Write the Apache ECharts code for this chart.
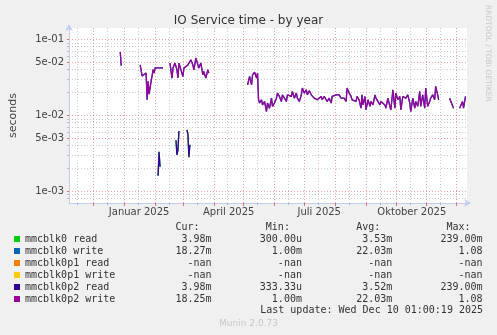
<!DOCTYPE html>
<html><head><meta charset="utf-8">
<script src="https://cdn.jsdelivr.net/npm/echarts@6/dist/echarts.min.js"></script>
<style>html,body{margin:0;padding:0;background:#F0F0F0;}#c{width:497px;height:335px;}</style>
</head><body><div id="c"></div>
<script>
// ---- texts ----
const chartTitle = 'IO Service time - by year';
const yAxisName = 'seconds';
const lastUpdate = 'Last update: Wed Dec 10 01:00:19 2025';
const footer = 'Munin 2.0.73';
const watermark = 'RRDTOOL / TOBI OETIKER';

// ---- axes ----
const axisStart = '2024-11-06T12:00:00';
const axisEnd = '2025-12-11T12:00:00';
const dayZero = '2024-11-05T00:00:00';   // day offsets below count from here
const monthStarts = ['2024-12-01','2025-01-01','2025-02-01','2025-03-01','2025-04-01','2025-05-01','2025-06-01','2025-07-01','2025-08-01','2025-09-01','2025-10-01','2025-11-01','2025-12-01'];
const midMonths = ['2024-11-15','2024-12-15','2025-01-15','2025-02-15','2025-03-15','2025-04-15','2025-05-15','2025-06-15','2025-07-15','2025-08-15','2025-09-15','2025-10-15','2025-11-15'];
const xLabelDates = ['2025-01-16','2025-04-16','2025-07-16','2025-10-17'];
const xLabels = ['Januar 2025','April 2025','Juli 2025','Oktober 2025'];
const yMin = 7.0e-4, yMax = 0.141;
const yMajorTicks = [1e-3, 5e-3, 1e-2, 5e-2, 1e-1];
const yTickLabels = ['1e-03','5e-03','1e-02','5e-02','1e-01'];
const yMinorTicks = [8e-4, 9e-4, 2e-3, 3e-3, 4e-3, 6e-3, 7e-3, 8e-3, 9e-3, 2e-2, 3e-2, 4e-2, 6e-2, 7e-2, 8e-2, 9e-2];

// ---- legend ----
const seriesNames = ['mmcblk0 read','mmcblk0 write','mmcblk0p1 read','mmcblk0p1 write','mmcblk0p2 read','mmcblk0p2 write'];
const seriesColors = ['#00CC00','#0066B3','#FF8000','#FFCC00','#330099','#990099'];
const curValues = ['3.98m','18.27m','-nan','-nan','3.98m','18.25m'];
const minValues = ['300.00u','1.00m','-nan','-nan','333.33u','1.00m'];
const avgValues = ['3.53m','22.03m','-nan','-nan','3.52m','22.03m'];
const maxValues = ['239.00m','1.08','-nan','-nan','239.00m','1.08'];
const columnHeads = ['Cur:','Min:','Avg:','Max:'];

// ---- data (day offset from dayZero, value in seconds; null = gap) ----
const writeDays = [53,54,60,
  73,75,77,79,80,81,82,84,85,86,87,88,90,92,94,96,100,
  103,105,106,108,110,111,112,114,116,117,119,121,122,124,126,127,129,131,132,134,136,137,139,141,142,160,
  181,183,185,186,188,190,191,192,193,195,196,198,200,201,203,205,206,208,210,211,213,215,216,218,220,221,223,225,226,228,230,231,233,235,236,238,240,241,243,245,246,248,250,251,253,255,256,258,260,261,263,265,266,268,270,271,273,275,276,278,280,281,283,285,286,288,
  290,291,293,295,296,297,299,300,302,304,305,307,309,310,312,314,315,317,319,320,322,324,325,327,329,330,332,334,335,337,339,340,342,344,345,347,349,350,352,354,355,357,359,360,362,364,365,367,369,370,372,373,378,
  384,385,386,388,391,
  394,396,397,398,400];
const writeVals = [0.068,0.045,null,
  0.046,0.033,0.035,0.036,0.016,0.028,0.019,0.028,0.033,0.040,0.036,0.042,0.041,0.042,0.042,0.042,null,
  0.0487,0.0308,0.0418,0.0487,0.0397,0.031,0.0487,0.046,0.0324,0.0418,0.0397,0.046,0.0439,0.0537,0.046,0.0397,0.0567,0.0537,0.0418,0.0487,0.0341,0.0377,0.0308,0.0397,0.0359,null,
  0.0252,0.0324,0.0252,0.0341,0.037,0.031,0.036,0.016,0.0145,0.016,0.0137,0.0152,0.0112,0.0145,0.0124,0.0168,0.0131,0.0145,0.0168,0.0196,0.0177,0.0152,0.0186,0.0168,0.0152,0.0186,0.0196,0.0177,0.0206,0.0168,0.0196,0.0168,0.0152,0.0186,0.0228,0.0196,0.0217,0.0186,0.021,0.0186,0.0177,0.0168,0.0177,0.016,0.0168,0.0177,0.016,0.0177,0.0168,0.0152,0.0168,0.0145,0.0177,0.0177,0.0186,0.0177,0.0186,0.0168,0.0168,0.0168,0.0152,0.0228,0.0196,0.0177,0.016,0.0155,
  0.0152,0.0177,0.016,0.0124,0.0186,0.0137,0.0177,0.0118,0.016,0.0131,0.0152,0.0137,0.0186,0.0168,0.0177,0.0137,0.0152,0.016,0.0137,0.0124,0.0168,0.0131,0.0118,0.0217,0.0124,0.0196,0.016,0.0177,0.0118,0.0177,0.0186,0.0168,0.0186,0.0145,0.0112,0.0168,0.0124,0.0152,0.0131,0.0206,0.0131,0.0186,0.0124,0.0228,0.0131,0.0152,0.0168,0.0186,0.016,0.024,0.0186,0.016,null,
  0.0168,0.0177,0.0177,0.0124,null,
  0.0124,0.0127,0.0152,0.0124,0.0177];
const readDays = [91,92,93,100, 109,110,111,112,116, 120,121,122,123];
const readVals = [0.0016,0.0033,0.0021,null, 0.0047,0.0030,0.0035,0.0062,null, 0.0064,0.0057,0.0028,0.0041];

// ---- build ----
const DAY = 86400000;
const ts = s => new Date(s).getTime();
const t0 = ts(dayZero);
const dayTs = s => ts(s + 'T00:00:00');
function build(days, vals) {
  return days.map((d, i) => [t0 + d * DAY, vals[i] === null ? '-' : vals[i]]);
}
const seriesData = [build(readDays, readVals), build(writeDays, writeVals), [], [], build(readDays, readVals), build(writeDays, writeVals)];

const mono = 'DejaVu Sans Mono';
const sans = 'DejaVu Sans';
const rows = {};
seriesNames.forEach((n, i) => {
  rows[n] = n.padEnd(19) + curValues[i].padStart(12) + minValues[i].padStart(15) + avgValues[i].padStart(15) + maxValues[i].padStart(15);
});
const headerLine = ' '.repeat(25) + columnHeads.join(' '.repeat(11));

const axisColor = '#C4CCF2';
const majorGrid = {show: true, lineStyle: {color: 'rgba(228,110,110,0.65)', type: [1, 2], width: 1}};
const minorGrid = {show: true, lineStyle: {color: 'rgba(160,160,160,0.55)', type: [1, 2], width: 1}};
const xMin = ts(axisStart), xMax = ts(axisEnd);
const labelTs = xLabelDates.map(dayTs);

const xAxes = [
  { type: 'value', min: xMin, max: xMax, gridIndex: 0, position: 'bottom',
    axisLine: {show: false, onZero: false}, axisLabel: {show: false},
    axisTick: {show: true, customValues: midMonths.map(dayTs), length: 2, lineStyle: {color: '#bbb'}},
    splitLine: minorGrid },
  { type: 'value', min: xMin, max: xMax, gridIndex: 0, position: 'bottom',
    axisLine: {show: true, onZero: false, lineStyle: {color: axisColor, width: 1}, symbol: ['none', 'arrow'], symbolSize: [6, 7], symbolOffset: [0, 4]},
    axisLabel: {show: false},
    axisTick: {show: true, customValues: monthStarts.map(dayTs), length: 3, lineStyle: {color: '#E07070'}},
    splitLine: majorGrid },
  { type: 'value', min: xMin, max: xMax, gridIndex: 0, position: 'bottom',
    axisLine: {show: false, onZero: false}, axisTick: {show: false}, splitLine: {show: false},
    axisLabel: {show: true, customValues: labelTs, margin: 4, color: '#444', fontFamily: sans, fontSize: 10,
      formatter: v => { let best = 0, bd = Infinity; labelTs.forEach((t, i) => { const d = Math.abs(t - v); if (d < bd) { bd = d; best = i; } }); return xLabels[best]; }} }
];
const yAxes = [
  { type: 'log', logBase: 10, min: yMin, max: yMax, gridIndex: 0, position: 'left',
    axisLine: {show: false, onZero: false}, axisLabel: {show: false},
    axisTick: {show: true, customValues: yMinorTicks, length: 2, lineStyle: {color: '#bbb'}},
    splitLine: minorGrid },
  { type: 'log', logBase: 10, min: yMin, max: yMax, gridIndex: 0, position: 'left',
    name: yAxisName, nameLocation: 'middle', nameGap: 50, nameRotate: 90,
    nameTextStyle: {fontFamily: sans, fontSize: 11, color: '#444'},
    axisLine: {show: true, onZero: false, lineStyle: {color: axisColor, width: 1}, symbol: ['none', 'arrow'], symbolSize: [6, 7], symbolOffset: [0, 4]},
    axisTick: {show: true, customValues: yMajorTicks, length: 2, lineStyle: {color: '#E07070'}},
    axisLabel: {show: true, customValues: yMajorTicks, margin: 5, color: '#444', fontFamily: sans, fontSize: 10,
      formatter: v => { let best = 0, bd = Infinity; yMajorTicks.forEach((t, i) => { const d = Math.abs(Math.log10(t) - Math.log10(v)); if (d < bd) { bd = d; best = i; } }); return yTickLabels[best]; }},
    splitLine: majorGrid }
];

const series = seriesNames.map((n, i) => ({
  name: n, type: 'line', data: seriesData[i], xAxisIndex: 1, yAxisIndex: 1,
  showSymbol: false, symbol: 'none', connectNulls: false,
  lineStyle: {width: 1.3, color: seriesColors[i]}, itemStyle: {color: seriesColors[i]},
  z: 5 + i, animation: false
}));

const chart = echarts.init(document.getElementById('c'), null, {renderer: 'canvas'});
chart.setOption({
  animation: false,
  backgroundColor: '#F0F0F0',
  title: {text: chartTitle, left: 'center', top: 10, textStyle: {fontFamily: sans, fontSize: 12, fontWeight: 'normal', color: '#333'}},
  grid: {left: 67, right: 30, top: 28, bottom: 132, containLabel: false, show: true, backgroundColor: '#FFFFFF', borderWidth: 0},
  xAxis: xAxes,
  yAxis: yAxes,
  legend: {orient: 'vertical', left: 14, top: 233, padding: 0, itemGap: 0, itemWidth: 6, itemHeight: 6, icon: 'rect',
    selectedMode: false, data: seriesNames,
    textStyle: {fontFamily: mono, fontSize: 10, lineHeight: 12, color: '#333'},
    formatter: n => rows[n]},
  graphic: [
    {type: 'text', left: 25, top: 222, style: {text: headerLine, font: '10px "DejaVu Sans Mono"', fill: '#333'}},
    {type: 'text', right: 14, top: 305, style: {text: lastUpdate, font: '10px "DejaVu Sans Mono"', fill: '#333'}},
    {type: 'text', left: 'center', top: 319, style: {text: footer, font: '9px "DejaVu Sans"', fill: '#C8C8C8'}},
    {type: 'text', x: 492, y: 5, rotation: -Math.PI / 2, style: {text: watermark, font: '7.5px "DejaVu Sans"', fill: '#C8C8C8'}}
  ],
  series: series
});
</script></body></html>
